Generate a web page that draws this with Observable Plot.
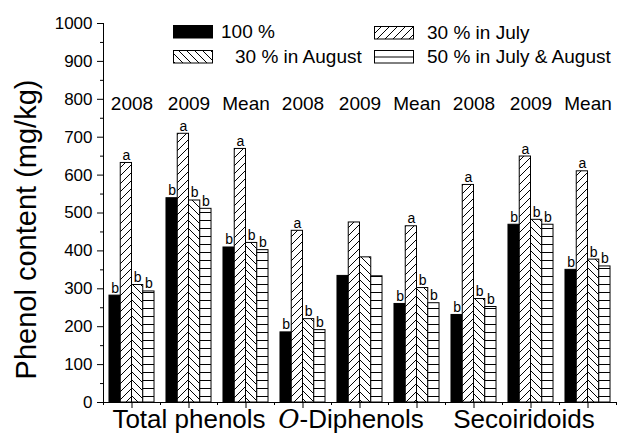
<!DOCTYPE html>
<html>
<head>
<meta charset="utf-8">
<script src="https://cdn.jsdelivr.net/npm/d3@7"></script>
<script src="https://cdn.jsdelivr.net/npm/@observablehq/plot@0.6"></script>
<style>
  body { margin: 0; background: #fff; }
  #chart { position: relative; width: 625px; height: 440px; }
</style>
</head>
<body>
<div id="chart"></div>
<script>
// ---- Data ----
const categories = ["Total phenols", "O-Diphenols", "Secoiridoids"];
const periods = ["2008", "2009", "Mean"];
const seriesNames = ["100 %", "30 % in July", "30 % in August", "50 % in July & August"];

// values per group: T-2008, T-2009, T-Mean, O-2008, O-2009, O-Mean, S-2008, S-2009, S-Mean
const values100  = [282, 539, 409, 185, 334, 260, 231, 469, 350];
const valuesJuly = [632, 709, 669, 453, 475, 465, 574, 649, 610];
const valuesAug  = [310, 533, 421, 220, 383, 302, 273, 482, 377];
const values50   = [293, 511, 402, 191, 333, 262, 252, 469, 359];

const letters100  = ["b", "b", "b", "b", "", "b", "b", "b", "b"];
const lettersJuly = ["a", "a", "a", "a", "", "a", "a", "a", "a"];
const lettersAug  = ["b", "b", "b", "b", "", "b", "b", "b", "b"];
const letters50   = ["b", "b", "b", "b", "", "b", "b", "b", "b"];

const yTicks = [0, 100, 200, 300, 400, 500, 600, 700, 800, 900, 1000];
const yMinorTicks = [50, 150, 250, 350, 450, 550, 650, 750, 850, 950];

// ---- Build table ----
const valueSets = [values100, valuesJuly, valuesAug, values50];
const letterSets = [letters100, lettersJuly, lettersAug, letters50];
const groups = categories.flatMap(c => periods.map(p => ({category: c, period: p})));
const rows = [];
groups.forEach((g, gi) => {
  seriesNames.forEach((s, si) => {
    rows.push({gi, si, series: s, value: valueSets[si][gi], letter: letterSets[si][gi]});
  });
});

const PAD = 0.105, BW = 0.1975;
const bx1 = d => d.gi + PAD + d.si * BW;
const bx2 = d => d.gi + PAD + (d.si + 1) * BW;
const bxc = d => d.gi + PAD + (d.si + 0.5) * BW;

const font = "'Liberation Sans', Arial, Helvetica, sans-serif";

const catOffsets = [0, -9, -7];

const plot = Plot.plot({
  width: 625,
  height: 440,
  marginLeft: 103,
  marginRight: 9,
  marginTop: 23,
  marginBottom: 38,
  style: {fontFamily: font, background: "white", color: "black", overflow: "visible"},
  x: {domain: [0, groups.length], axis: null, label: null},
  y: {domain: [0, 1000], axis: null, label: null},
  color: {domain: seriesNames, range: ["black", "url(#pat-july)", "url(#pat-aug)", "url(#pat-both)"]},
  marks: [
    Plot.rectY(rows, {x1: bx1, x2: bx2, y: "value", fill: "series", stroke: "black", strokeWidth: 1}),
    Plot.text(rows.filter(d => d.letter), {x: bxc, y: "value", text: "letter", lineAnchor: "bottom", dy: -3, fontSize: 14, fill: "black"}),
    Plot.axisY({ticks: yTicks, tickSize: 6, tickPadding: 5, fontSize: 17, tickFormat: d => String(d), label: null}),
    Plot.axisY({ticks: yMinorTicks, tickSize: 3, tickFormat: () => "", label: null}),
    Plot.axisX({ticks: groups.map((g, i) => i + 0.5), tickSize: 6, tickFormat: () => "", label: null}),
    Plot.axisX({ticks: d3.range(groups.length + 1), tickSize: 3, tickFormat: () => "", label: null}),
    Plot.ruleX([0], {y1: 0, y2: 1000, stroke: "black"}),
    Plot.ruleY([0], {stroke: "black"}),
    Plot.text(groups, {x: (d, i) => i + 0.5, text: "period", frameAnchor: "top", dy: 72.6, fontSize: 19}),
    ...categories.map((c, ci) => Plot.text([c], {x: () => ci * 3 + 1.5, text: d => d, frameAnchor: "bottom", textAnchor: "middle", dy: 25.7, dx: catOffsets[ci], fontSize: 26})),
    Plot.text(["Phenol content (mg/kg)"], {text: d => d, frameAnchor: "left", textAnchor: "middle", rotate: -90, dx: -77, dy: 16.5, fontSize: 29})
  ]
});

// ---- Patterns ----
const svg = d3.select(plot);
const defs = svg.insert("defs", ":first-child");
function addPattern(id, w, h, d) {
  const p = defs.append("pattern").attr("id", id).attr("patternUnits", "userSpaceOnUse")
    .attr("width", w).attr("height", h);
  p.append("rect").attr("width", w).attr("height", h).attr("fill", "white");
  p.append("path").attr("d", d).attr("stroke", "black").attr("stroke-width", 1).attr("fill", "none");
}
addPattern("pat-july", 8, 8, "M0,8 L8,0 M-2,2 L2,-2 M6,10 L10,6");
addPattern("pat-aug", 8, 8, "M0,0 L8,8 M-2,6 L2,10 M6,-2 L10,2");
addPattern("pat-both", 8, 8, "M0,4.5 H8");

// Italic O in "O-Diphenols"
svg.selectAll("text").filter(function() { return this.textContent === "O-Diphenols"; }).each(function() {
  const t = d3.select(this);
  t.text(null);
  t.append("tspan").attr("font-style", "italic").attr("font-family", "'DejaVu Serif', serif").text("O");
  t.append("tspan").text("-Diphenols");
});

// ---- Legend ----
const legendItems = [
  {si: 0, sx: 173, sy: 25, tx: 221},
  {si: 2, sx: 173, sy: 50, tx: 235},
  {si: 1, sx: 374, sy: 26, tx: 427},
  {si: 3, sx: 374, sy: 50, tx: 427}
];
const fills = ["black", "url(#pat-july)", "url(#pat-aug)", "white"];
const lg = svg.append("g").attr("font-family", font).attr("font-size", 19).attr("text-anchor", "start");
legendItems.forEach(it => {
  lg.append("rect").attr("x", it.sx + 0.5).attr("y", it.sy + 0.5).attr("width", 39).attr("height", 12.5)
    .attr("fill", fills[it.si]).attr("stroke", "black").attr("stroke-width", 1);
  if (it.si === 3) {
    lg.append("line").attr("x1", it.sx + 0.5).attr("x2", it.sx + 39.5)
      .attr("y1", it.sy + 7).attr("y2", it.sy + 7).attr("stroke", "black");
  }
  lg.append("text").attr("x", it.tx).attr("y", it.sy + 6.5).attr("dy", "0.35em").attr("fill", "black")
    .attr("text-anchor", "start").text(seriesNames[it.si]);
});

document.getElementById("chart").appendChild(plot);
</script>
</body>
</html>
